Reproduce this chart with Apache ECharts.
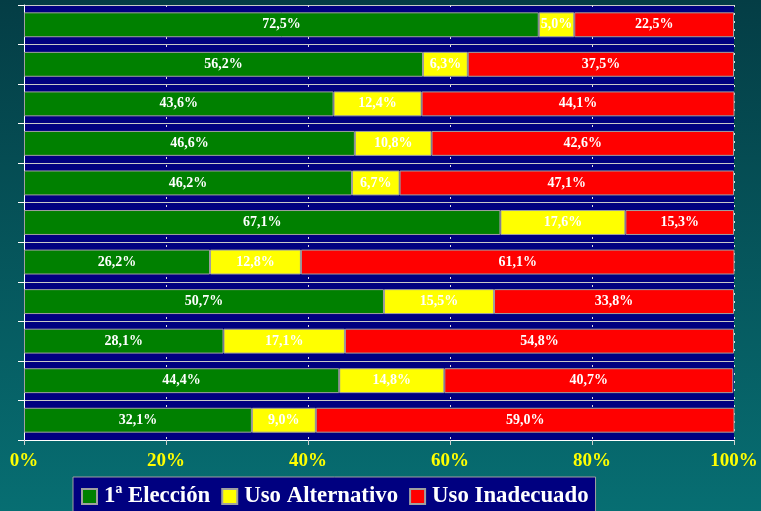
<!DOCTYPE html>
<html>
<head>
<meta charset="utf-8">
<script src="https://cdn.jsdelivr.net/npm/echarts@6/dist/echarts.min.js"></script>
<style>
  html, body { margin: 0; padding: 0; }
  #chart { width: 761px; height: 511px; }
</style>
</head>
<body>
<div id="chart"></div>
<script>
// Rows from top to bottom
const categories = ['1', '2', '3', '4', '5', '6', '7', '8', '9', '10', '11'];
const primeraEleccion = [72.5, 56.2, 43.6, 46.6, 46.2, 67.1, 26.2, 50.7, 28.1, 44.4, 32.1];
const usoAlternativo  = [5.0, 6.3, 12.4, 10.8, 6.7, 17.6, 12.8, 15.5, 17.1, 14.8, 9.0];
const usoInadecuado   = [22.5, 37.5, 44.1, 42.6, 47.1, 15.3, 61.1, 33.8, 54.8, 40.7, 59.0];
const seriesNames = ['1ª Elección', 'Uso Alternativo', 'Uso Inadecuado'];
const xTicks = [0, 20, 40, 60, 80, 100];

const serif = '"Liberation Serif", "DejaVu Serif", serif';
const colors = ['#008000', '#ffff00', '#ff0000'];

function pct(v) {
  return v.toFixed(1).replace('.', ',') + '%';
}

function makeSeries(name, data, color) {
  return {
    name: name,
    type: 'bar',
    stack: 'total',
    data: data,
    barCategoryGap: '37%',
    itemStyle: { color: color, borderColor: '#a0a0a0', borderWidth: 1 },
    label: {
      show: true,
      position: 'inside',
      color: '#ffffff',
      fontFamily: serif,
      fontWeight: 'bold',
      fontSize: 14,
      formatter: p => pct(p.value)
    },
    emphasis: { disabled: true },
    animation: false
  };
}

const chart = echarts.init(document.getElementById('chart'), null, { renderer: 'canvas' });
chart.setOption({
  backgroundColor: {
    type: 'linear', x: 0, y: 0, x2: 0, y2: 1,
    colorStops: [
      { offset: 0, color: '#043d45' },
      { offset: 1, color: '#076e72' }
    ]
  },
  animation: false,
  grid: {
    left: 24, right: 27, top: 5, bottom: 71,
    show: true, backgroundColor: '#000080', borderWidth: 0
  },
  legend: {
    data: seriesNames,
    left: 73, top: 477,
    backgroundColor: '#000080',
    borderColor: '#a0a0a0',
    borderWidth: 1,
    padding: [8, 7, 8, 8],
    itemGap: 11,
    itemWidth: 15, itemHeight: 15,
    icon: 'rect',
    textStyle: {
      color: '#ffffff', fontFamily: serif, fontWeight: 'bold', fontSize: 22.8,
      padding: [0, 0, 0, 2]
    },
    selectedMode: false
  },
  xAxis: {
    type: 'value',
    min: xTicks[0], max: xTicks[xTicks.length - 1], interval: 20,
    axisLine: { show: true, lineStyle: { color: '#ffffff', width: 1 } },
    axisTick: { show: true, length: 5, lineStyle: { color: '#d0d0d0' } },
    axisLabel: {
      color: '#ffff00', fontFamily: serif, fontWeight: 'bold', fontSize: 19, margin: 12,
      formatter: '{value}%'
    },
    splitLine: { show: true, lineStyle: { color: '#e0e0e0', type: [2, 6], width: 1 } }
  },
  yAxis: {
    type: 'category',
    data: categories,
    inverse: true,
    axisLine: { show: true, lineStyle: { color: '#ffffff', width: 1 } },
    axisTick: { show: true, length: 6, lineStyle: { color: '#ffffff' } },
    axisLabel: { show: false },
    splitLine: { show: true, lineStyle: { color: '#c8c8c8', width: 1 } }
  },
  series: [
    makeSeries(seriesNames[0], primeraEleccion, colors[0]),
    makeSeries(seriesNames[1], usoAlternativo, colors[1]),
    makeSeries(seriesNames[2], usoInadecuado, colors[2])
  ]
});
</script>
</body>
</html>
